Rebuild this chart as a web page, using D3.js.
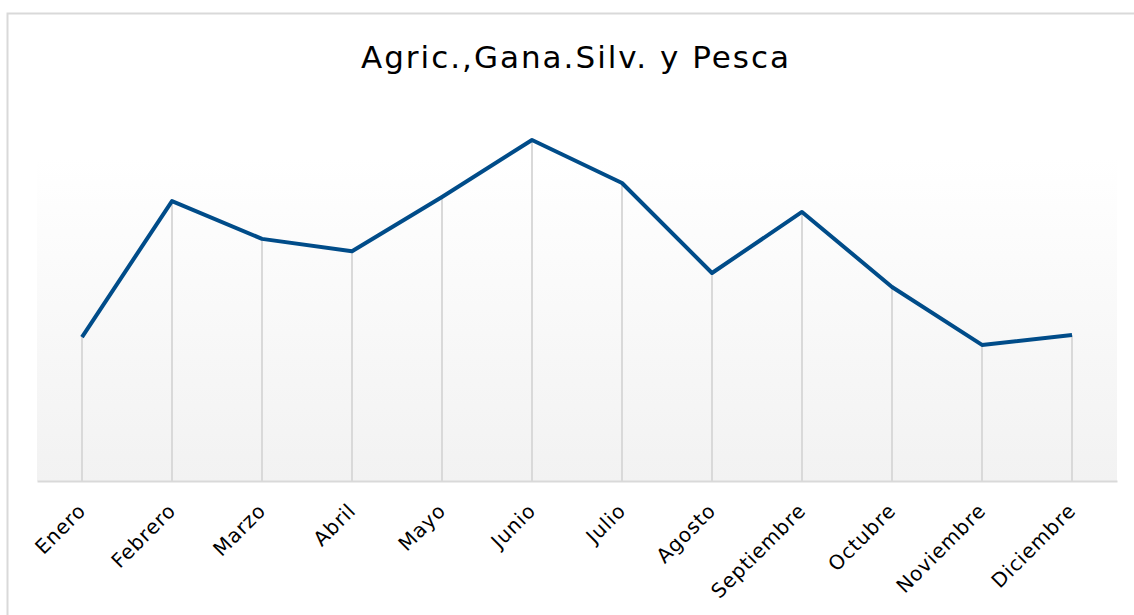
<!DOCTYPE html>
<html>
<head>
<meta charset="utf-8">
<script src="https://cdn.jsdelivr.net/npm/d3@7"></script>
<style>
  body { margin: 0; background: #fff; }
  svg { display: block; }
</style>
</head>
<body>
<svg id="chart" width="1134" height="615"></svg>
<script>
// donnees du graphique
const titre = "Agric.,Gana.Silv. y Pesca";
const meses = ["Enero", "Febrero", "Marzo", "Abril", "Mayo", "Junio", "Julio",
               "Agosto", "Septiembre", "Octubre", "Noviembre", "Diciembre"];
const valores = [4.22, 8.21, 7.10, 6.74, 8.33, 10.0, 8.74, 6.10, 7.89, 5.69, 3.99, 4.28];

const svg = d3.select("#chart");
const W = 1134, H = 615;
const m = { left: 37, right: 1117, top: 158, bottom: 481 };

// cadre du graphique
svg.append("rect")
    .attr("x", 7.5).attr("y", 13.5)
    .attr("width", W + 20).attr("height", H + 20)
    .attr("fill", "#fff").attr("stroke", "#d9d9d9").attr("stroke-width", 2);

// degrade de la zone de trace
const defs = svg.append("defs");
const grad = defs.append("linearGradient").attr("id", "fond")
    .attr("x1", 0).attr("y1", 0).attr("x2", 0).attr("y2", 1);
grad.append("stop").attr("offset", "0%").attr("stop-color", "#ffffff");
grad.append("stop").attr("offset", "100%").attr("stop-color", "#f2f2f2");

svg.append("rect")
    .attr("x", m.left).attr("y", m.top)
    .attr("width", m.right - m.left).attr("height", m.bottom - m.top)
    .attr("fill", "url(#fond)");

// echelles
const x = d3.scaleBand().domain(meses).range([m.left, m.right]);
const y = d3.scaleLinear().domain([0, 10]).range([m.bottom, 140]);
const cx = d => x(d) + x.bandwidth() / 2;

// lignes de rappel vers l'axe
svg.append("g").selectAll("line")
    .data(meses)
    .join("line")
    .attr("x1", d => cx(d)).attr("x2", d => cx(d))
    .attr("y1", (d, i) => y(valores[i])).attr("y2", m.bottom)
    .attr("stroke", "#d9d9d9").attr("stroke-width", 2);

// axe des x
const axeX = svg.append("g")
    .attr("transform", `translate(0,${m.bottom})`)
    .call(d3.axisBottom(x).tickSize(0).tickPadding(0));
axeX.select(".domain").attr("stroke", "#d9d9d9").attr("stroke-width", 2);
axeX.selectAll("text")
    .attr("font-family", "DejaVu Sans, sans-serif")
    .attr("font-size", 20)
    .attr("letter-spacing", 0.8)
    .attr("fill", "#000")
    .attr("text-anchor", "end")
    .attr("dy", 0)
    .attr("transform", "translate(5,31) rotate(-45)");

// serie
const ligne = d3.line()
    .x((d, i) => cx(meses[i]))
    .y(d => y(d));

svg.append("path")
    .datum(valores)
    .attr("d", ligne)
    .attr("fill", "none")
    .attr("stroke", "#004c89")
    .attr("stroke-width", 4)
    .attr("stroke-linejoin", "round");

// titre
svg.append("text")
    .attr("x", 576).attr("y", 68)
    .attr("text-anchor", "middle")
    .attr("font-family", "DejaVu Sans, sans-serif")
    .attr("font-size", 31)
    .attr("letter-spacing", 2)
    .attr("fill", "#000")
    .text(titre);
</script>
</body>
</html>
